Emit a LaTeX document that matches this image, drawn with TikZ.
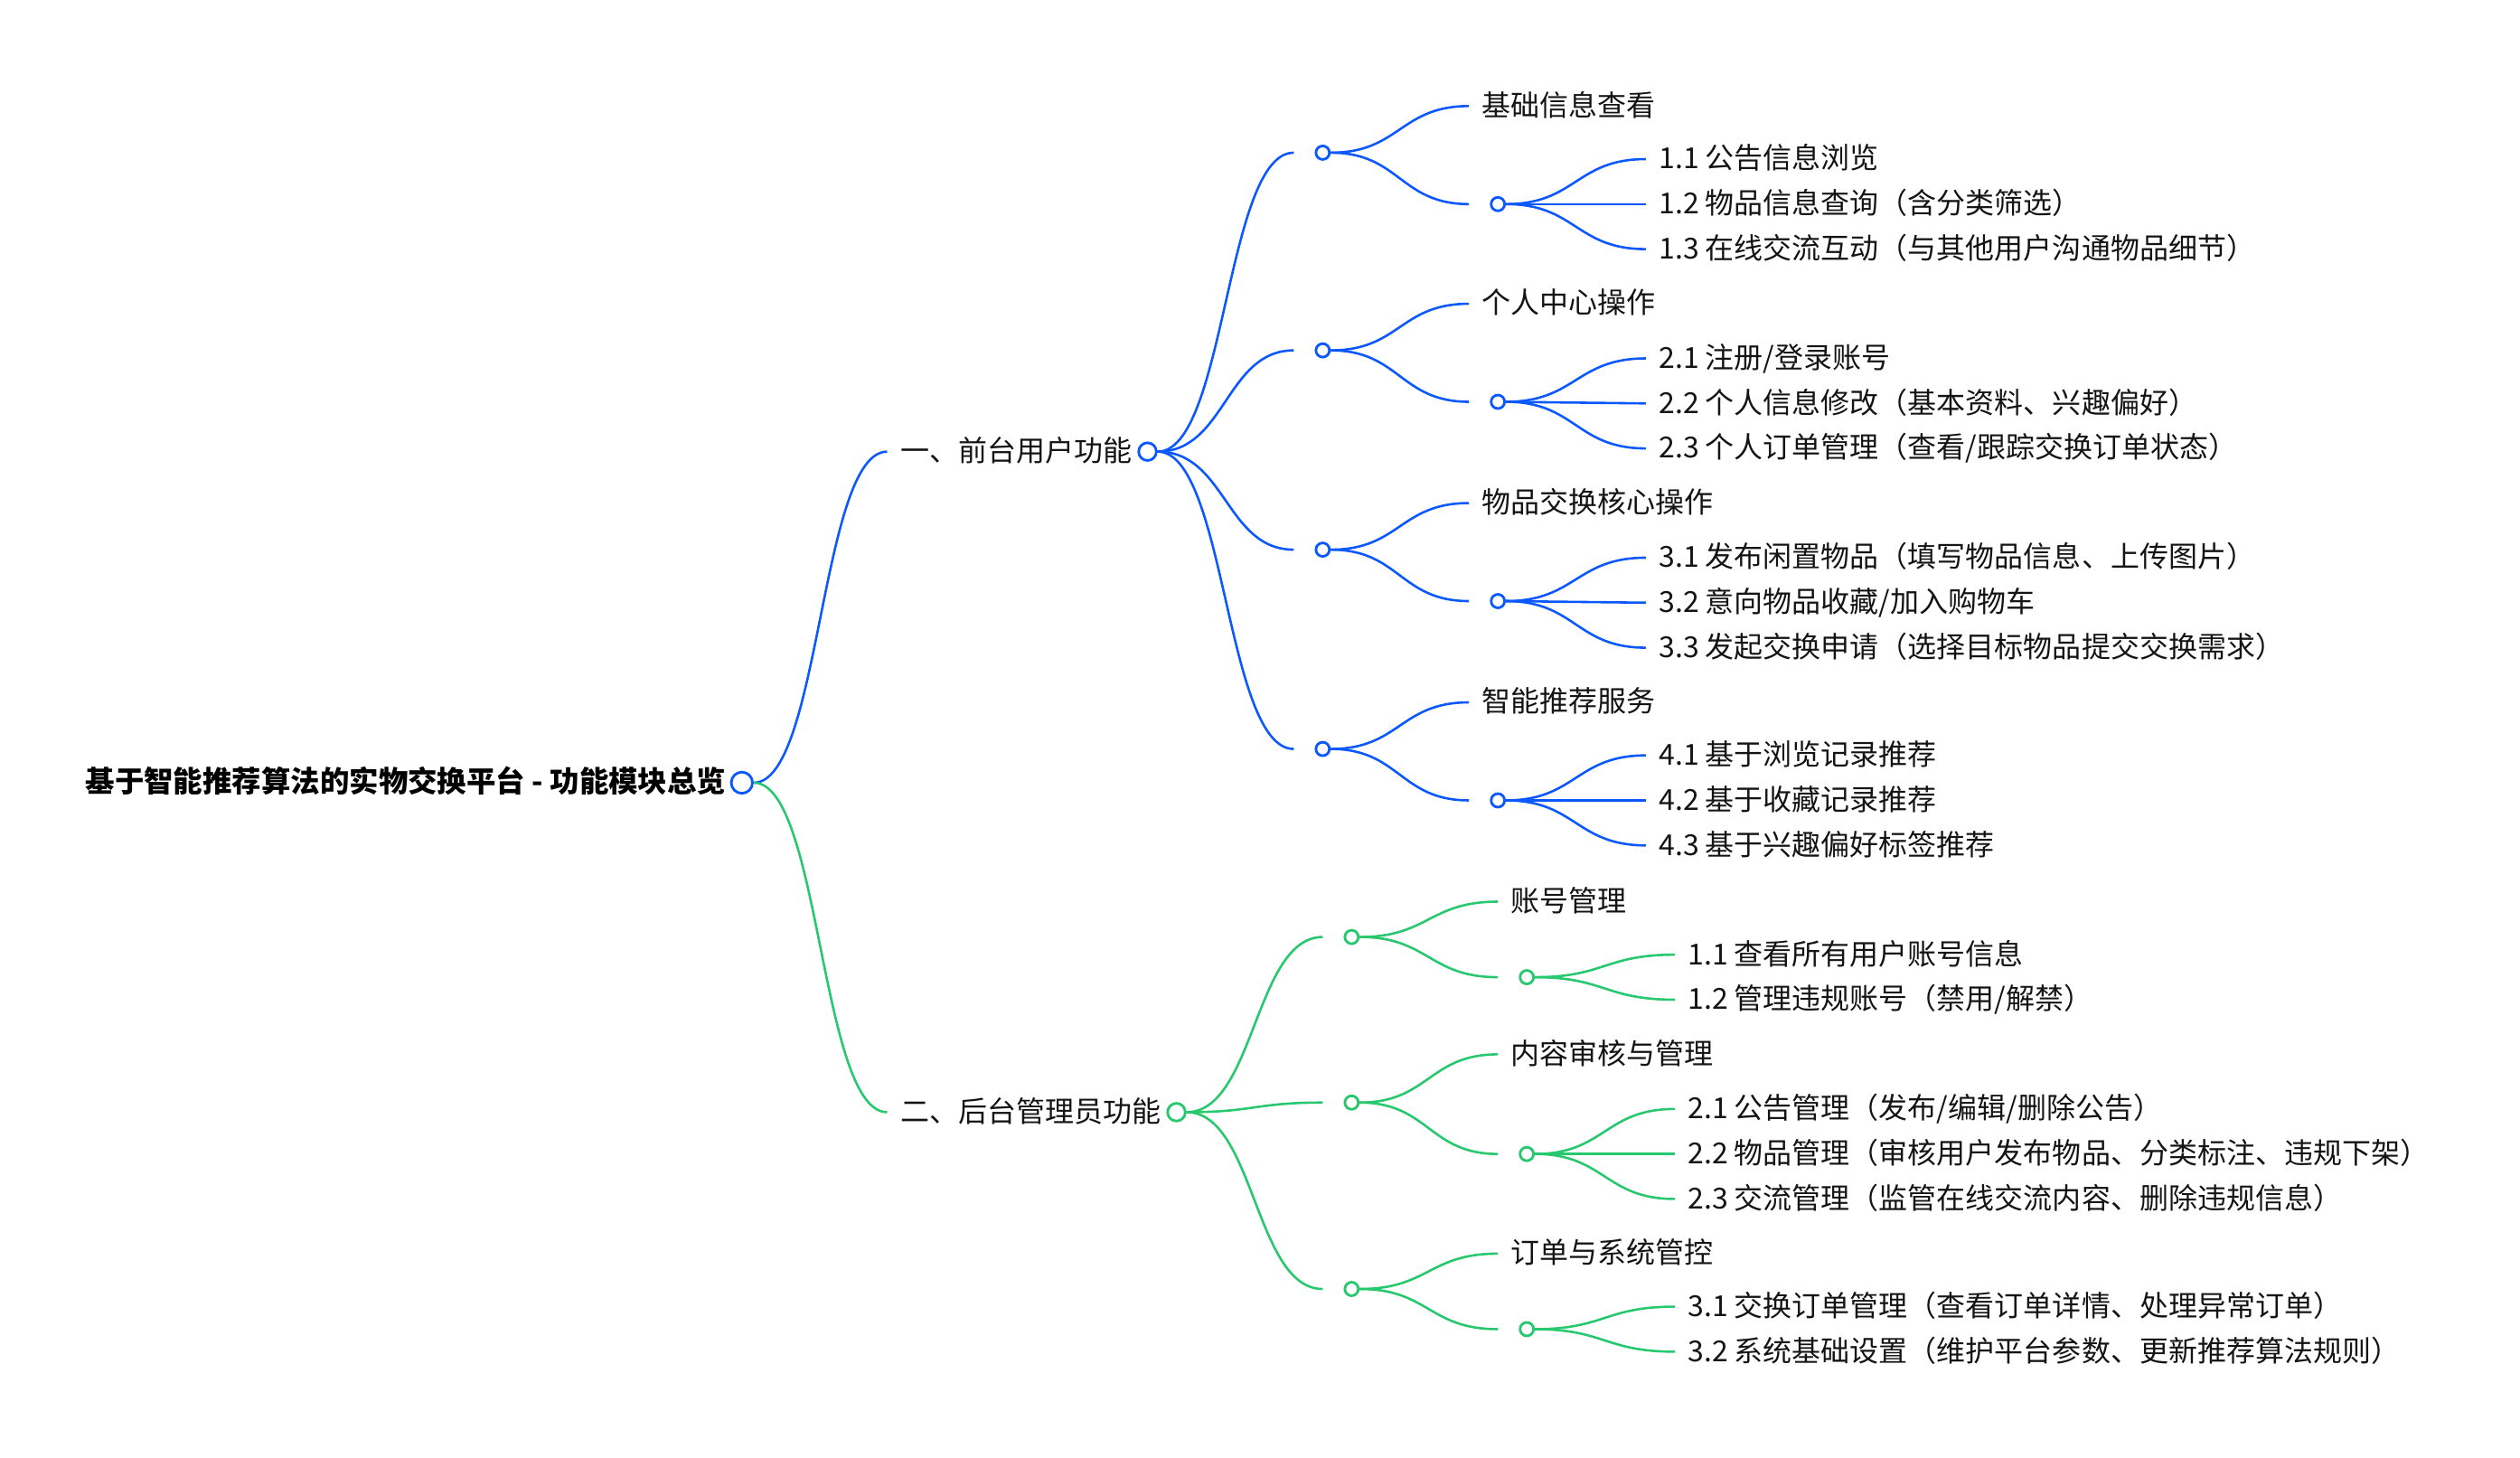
\documentclass[tikz,border=0pt]{standalone}
\usepackage{fontspec}
\setmainfont{Noto Sans CJK SC}
\usetikzlibrary{calc}
\definecolor{mblue}{RGB}{12,88,255}
\definecolor{mgreen}{RGB}{40,200,110}
\newcommand\mmlink[3]{\draw[#1] let \p1=(#2), \p2=(#3) in (\p1) .. controls ($(\x1,\y1)!0.5!(\x2,\y1)$) and ($(\x1,\y2)!0.5!(\x2,\y2)$) .. (\p2);}
\tikzset{
  txt/.style={anchor=west, inner xsep=8pt, inner ysep=0pt, text height=1.22em, text depth=0em, font=\fontsize{18}{20}\selectfont, text=black!92},
  roottxt/.style={anchor=east, inner sep=0pt, text height=1.15em, text depth=0em, font=\fontsize{18.25}{20}\selectfont\bfseries, text=black},
  dotb/.style={circle, draw=mblue, fill=white, line width=1.6pt, minimum size=8.4pt, inner sep=0pt},
  dotg/.style={circle, draw=mgreen, fill=white, line width=1.6pt, minimum size=8.4pt, inner sep=0pt},
  bigb/.style={dotb, minimum size=11pt},
  bigg/.style={dotg, minimum size=11pt},
  lb/.style={draw=mblue, line width=1.45pt},
  lg/.style={draw=mgreen, line width=1.45pt},
}
\begin{document}
\begin{tikzpicture}[x=1pt,y=-1pt]
\useasboundingbox[fill=white] (0,0) rectangle (1568,907);
% root
\node[roottxt] (rt) at (452,487) {基于智能推荐算法的实物交换平台 - 功能模块总览};
\node[bigb, minimum size=13.2pt] (r) at (461.6,487) {};
% level 1
\node[txt] (b1) at (552,281) {一、前台用户功能};
\node[bigb] (b1c) at (714,281) {};
\node[txt] (g1) at (552,692) {二、后台管理员功能};
\node[bigg] (g1c) at (732,692) {};
\mmlink{lb}{r.east}{b1.west}
\mmlink{lg}{r.east}{g1.west}
% ---------- blue group A
\coordinate (bAe) at (805,95); \node[dotb] (bA) at (823,95) {};
\node[txt] (bAt) at (914,66) {基础信息查看};
\coordinate (bAxe) at (914,127); \node[dotb] (bAx) at (932,127) {};
\node[txt] (bA1) at (1024,99) {1.1 公告信息浏览};
\node[txt] (bA2) at (1024,127) {1.2 物品信息查询（含分类筛选）};
\node[txt] (bA3) at (1024,155) {1.3 在线交流互动（与其他用户沟通物品细节）};
\mmlink{lb}{b1c.east}{bAe}
\mmlink{lb}{bA.east}{bAt.west}
\mmlink{lb}{bA.east}{bAxe}
\mmlink{lb}{bAx.east}{bA1.west}
\mmlink{lb}{bAx.east}{bA2.west}
\mmlink{lb}{bAx.east}{bA3.west}
% ---------- blue group B
\coordinate (bBe) at (805,218); \node[dotb] (bB) at (823,218) {};
\node[txt] (bBt) at (914,189) {个人中心操作};
\coordinate (bBxe) at (914,250); \node[dotb] (bBx) at (932,250) {};
\node[txt] (bB1) at (1024,223) {2.1 注册/登录账号};
\node[txt] (bB2) at (1024,251) {2.2 个人信息修改（基本资料、兴趣偏好）};
\node[txt] (bB3) at (1024,279) {2.3 个人订单管理（查看/跟踪交换订单状态）};
\mmlink{lb}{b1c.east}{bBe}
\mmlink{lb}{bB.east}{bBt.west}
\mmlink{lb}{bB.east}{bBxe}
\mmlink{lb}{bBx.east}{bB1.west}
\mmlink{lb}{bBx.east}{bB2.west}
\mmlink{lb}{bBx.east}{bB3.west}
% ---------- blue group C
\coordinate (bCe) at (805,342); \node[dotb] (bC) at (823,342) {};
\node[txt] (bCt) at (914,313) {物品交换核心操作};
\coordinate (bCxe) at (914,374); \node[dotb] (bCx) at (932,374) {};
\node[txt] (bC1) at (1024,347) {3.1 发布闲置物品（填写物品信息、上传图片）};
\node[txt] (bC2) at (1024,375) {3.2 意向物品收藏/加入购物车};
\node[txt] (bC3) at (1024,403) {3.3 发起交换申请（选择目标物品提交交换需求）};
\mmlink{lb}{b1c.east}{bCe}
\mmlink{lb}{bC.east}{bCt.west}
\mmlink{lb}{bC.east}{bCxe}
\mmlink{lb}{bCx.east}{bC1.west}
\mmlink{lb}{bCx.east}{bC2.west}
\mmlink{lb}{bCx.east}{bC3.west}
% ---------- blue group D
\coordinate (bDe) at (805,466); \node[dotb] (bD) at (823,466) {};
\node[txt] (bDt) at (914,437) {智能推荐服务};
\coordinate (bDxe) at (914,498); \node[dotb] (bDx) at (932,498) {};
\node[txt] (bD1) at (1024,470) {4.1 基于浏览记录推荐};
\node[txt] (bD2) at (1024,498) {4.2 基于收藏记录推荐};
\node[txt] (bD3) at (1024,526) {4.3 基于兴趣偏好标签推荐};
\mmlink{lb}{b1c.east}{bDe}
\mmlink{lb}{bD.east}{bDt.west}
\mmlink{lb}{bD.east}{bDxe}
\mmlink{lb}{bDx.east}{bD1.west}
\mmlink{lb}{bDx.east}{bD2.west}
\mmlink{lb}{bDx.east}{bD3.west}
% ---------- green group A
\coordinate (gAe) at (823,583); \node[dotg] (gA) at (841,583) {};
\node[txt] (gAt) at (932,561) {账号管理};
\coordinate (gAxe) at (932,608); \node[dotg] (gAx) at (950,608) {};
\node[txt] (gA1) at (1042,594) {1.1 查看所有用户账号信息};
\node[txt] (gA2) at (1042,622) {1.2 管理违规账号（禁用/解禁）};
\mmlink{lg}{g1c.east}{gAe}
\mmlink{lg}{gA.east}{gAt.west}
\mmlink{lg}{gA.east}{gAxe}
\mmlink{lg}{gAx.east}{gA1.west}
\mmlink{lg}{gAx.east}{gA2.west}
% ---------- green group B
\coordinate (gBe) at (823,686); \node[dotg] (gB) at (841,686) {};
\node[txt] (gBt) at (932,656) {内容审核与管理};
\coordinate (gBxe) at (932,718); \node[dotg] (gBx) at (950,718) {};
\node[txt] (gB1) at (1042,690) {2.1 公告管理（发布/编辑/删除公告）};
\node[txt] (gB2) at (1042,718) {2.2 物品管理（审核用户发布物品、分类标注、违规下架）};
\node[txt] (gB3) at (1042,746) {2.3 交流管理（监管在线交流内容、删除违规信息）};
\mmlink{lg}{g1c.east}{gBe}
\mmlink{lg}{gB.east}{gBt.west}
\mmlink{lg}{gB.east}{gBxe}
\mmlink{lg}{gBx.east}{gB1.west}
\mmlink{lg}{gBx.east}{gB2.west}
\mmlink{lg}{gBx.east}{gB3.west}
% ---------- green group C
\coordinate (gCe) at (823,802); \node[dotg] (gC) at (841,802) {};
\node[txt] (gCt) at (932,780) {订单与系统管控};
\coordinate (gCxe) at (932,827); \node[dotg] (gCx) at (950,827) {};
\node[txt] (gC1) at (1042,813) {3.1 交换订单管理（查看订单详情、处理异常订单）};
\node[txt] (gC2) at (1042,841) {3.2 系统基础设置（维护平台参数、更新推荐算法规则）};
\mmlink{lg}{g1c.east}{gCe}
\mmlink{lg}{gC.east}{gCt.west}
\mmlink{lg}{gC.east}{gCxe}
\mmlink{lg}{gCx.east}{gC1.west}
\mmlink{lg}{gCx.east}{gC2.west}
\end{tikzpicture}
\end{document}
